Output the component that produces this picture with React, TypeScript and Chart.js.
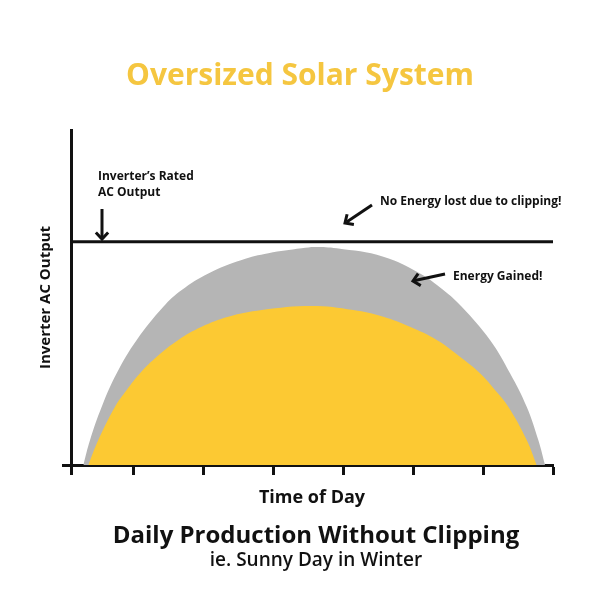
import React, { useEffect, useRef } from "react";
import { Chart, registerables } from "chart.js";

Chart.register(...registerables);

// ---- Axis ranges / ticks ----
const xMin = 0.114;
const xMax = 7;
const yMin = 0;
const yMax = 1.5;
const xTickValues = [0.114, 1, 2, 3, 4, 5, 6, 7];
const yTickValues = [0];

// ---- Series: inverter's rated AC output (flat line) ----
const ratedOutput = 1.0;

// ---- Series: oversized array production (grey, "Energy Gained") ----
const oversizedX = [0.29, 0.386, 0.553, 0.767, 1.053, 1.433, 1.696, 2.076, 2.553, 2.933, 3.41, 3.6, 3.91, 4.576, 5.1, 5.433, 5.696, 6.1, 6.386, 6.624, 6.79, 6.886];
const oversizedY = [0, 0.112, 0.261, 0.411, 0.56, 0.709, 0.784, 0.858, 0.918, 0.948, 0.97, 0.976, 0.97, 0.933, 0.858, 0.784, 0.709, 0.56, 0.411, 0.261, 0.112, 0];

// ---- Series: standard array production (yellow) ----
const standardX = [0.361, 0.504, 0.743, 0.91, 1.1, 1.339, 1.647, 1.981, 2.361, 2.839, 3.55, 4.147, 4.576, 4.957, 5.339, 5.671, 5.957, 6.171, 6.361, 6.624, 6.767];
const standardY = [0, 0.112, 0.261, 0.336, 0.411, 0.485, 0.56, 0.619, 0.664, 0.694, 0.712, 0.694, 0.664, 0.619, 0.56, 0.485, 0.411, 0.336, 0.261, 0.112, 0];

// ---- Text ----
const chartTitle = "Oversized Solar System";
const xAxisTitle = "Time of Day";
const yAxisTitle = "Inverter AC Output";
const captionMain = "Daily Production Without Clipping";
const captionSub = "ie. Sunny Day in Winter";
const ratedLabel = ["Inverter\u2019s Rated", "AC Output"];
const noLossLabel = "No Energy lost due to clipping!";
const gainedLabel = "Energy Gained!";

const FONT = '"Open Sans", "Noto Sans", sans-serif';
const GREY = "#b5b5b5";
const YELLOW = "#fcc933";
const TITLE_YELLOW = "#f5c640";
const INK = "#111111";

function drawArrow(ctx: CanvasRenderingContext2D, x1: number, y1: number, x2: number, y2: number) {
  const ang = Math.atan2(y2 - y1, x2 - x1);
  const head = 9;
  ctx.save();
  ctx.strokeStyle = INK;
  ctx.lineWidth = 3;
  ctx.lineCap = "butt";
  ctx.lineJoin = "miter";
  ctx.beginPath();
  ctx.moveTo(x1, y1);
  ctx.lineTo(x2 - Math.cos(ang) * 2, y2 - Math.sin(ang) * 2);
  ctx.stroke();
  ctx.beginPath();
  ctx.moveTo(x2 - head * Math.cos(ang - 0.75), y2 - head * Math.sin(ang - 0.75));
  ctx.lineTo(x2, y2);
  ctx.lineTo(x2 - head * Math.cos(ang + 0.75), y2 - head * Math.sin(ang + 0.75));
  ctx.stroke();
  ctx.restore();
}

const annotationPlugin = {
  id: "solarAnnotations",
  afterDraw(chart: any) {
    const ctx: CanvasRenderingContext2D = chart.ctx;
    ctx.save();
    ctx.textBaseline = "middle";

    ctx.fillStyle = TITLE_YELLOW;
    ctx.textAlign = "center";
    ctx.font = `bold 30px ${FONT}`;
    ctx.fillText(chartTitle, 300, 76);

    ctx.fillStyle = INK;
    ctx.textAlign = "left";
    ctx.font = `bold 12px ${FONT}`;
    ctx.fillText(ratedLabel[0], 98, 177);
    ctx.fillText(ratedLabel[1], 98, 193);
    ctx.fillText(noLossLabel, 380, 202);
    ctx.fillText(gainedLabel, 453, 277);

    drawArrow(ctx, 102, 209, 102, 239);
    drawArrow(ctx, 372, 205, 345, 223);
    drawArrow(ctx, 445, 274, 413, 281);

    ctx.textAlign = "center";
    ctx.font = `bold 24px ${FONT}`;
    ctx.fillText(captionMain, 316, 536);
    ctx.font = `600 19px ${FONT}`;
    ctx.fillText(captionSub, 316, 561);
    ctx.restore();
  },
};

export default function App() {
  const canvasRef = useRef<HTMLCanvasElement | null>(null);

  useEffect(() => {
    if (!canvasRef.current) return;
    const oversizedData = oversizedX.map((x, i) => ({ x, y: oversizedY[i] }));
    const standardData = standardX.map((x, i) => ({ x, y: standardY[i] }));
    const ratedData = [
      { x: xMin, y: ratedOutput },
      { x: xMax, y: ratedOutput },
    ];

    const chart = new Chart(canvasRef.current, {
      type: "line",
      data: {
        datasets: [
          {
            label: "Inverter's Rated AC Output",
            data: ratedData,
            borderColor: INK,
            borderWidth: 3,
            pointRadius: 0,
            fill: false,
            order: 0,
            clip: false as any,
          },
          {
            label: "Standard array",
            data: standardData,
            borderWidth: 0,
            borderColor: YELLOW,
            backgroundColor: YELLOW,
            pointRadius: 0,
            fill: "origin",
            tension: 0.4,
            order: 1,
          },
          {
            label: "Oversized array",
            data: oversizedData,
            borderWidth: 0,
            borderColor: GREY,
            backgroundColor: GREY,
            pointRadius: 0,
            fill: "origin",
            tension: 0.4,
            order: 2,
          },
        ],
      },
      options: {
        responsive: false,
        animation: false,
        events: [],
        layout: {
          padding: { top: 130, left: 33, right: 47, bottom: 87.2 },
        },
        plugins: {
          legend: { display: false },
          tooltip: { enabled: false },
          title: { display: false },
        },
        scales: {
          x: {
            type: "linear",
            min: xMin,
            max: xMax,
            afterBuildTicks: (scale: any) => {
              scale.ticks = xTickValues.map((v) => ({ value: v }));
            },
            ticks: { display: false },
            grid: {
              display: true,
              drawOnChartArea: false,
              drawTicks: true,
              tickLength: 10,
              tickWidth: 3,
              tickColor: INK,
            },
            border: { display: true, color: INK, width: 3 },
            title: {
              display: true,
              text: xAxisTitle,
              color: INK,
              font: { family: FONT, size: 18, weight: "bold", lineHeight: 1.2 },
              padding: { top: 12.2, bottom: 4 },
            },
          },
          y: {
            type: "linear",
            min: yMin,
            max: yMax,
            afterBuildTicks: (scale: any) => {
              scale.ticks = yTickValues.map((v) => ({ value: v }));
            },
            ticks: { display: false },
            grid: {
              display: true,
              drawOnChartArea: false,
              drawTicks: true,
              tickLength: 9,
              tickWidth: 3,
              tickColor: INK,
            },
            border: { display: true, color: INK, width: 3 },
            title: {
              display: true,
              text: yAxisTitle,
              color: INK,
              font: { family: FONT, size: 15, weight: "bold", lineHeight: 1.2 },
              padding: { top: 4, bottom: 7 },
            },
          },
        },
      },
      plugins: [annotationPlugin],
    });
    return () => chart.destroy();
  }, []);

  return (
    <div style={{ position: "absolute", left: 0, top: 0, width: 600, height: 600, background: "#ffffff" }}>
      <canvas ref={canvasRef} width={600} height={600} style={{ display: "block" }} />
    </div>
  );
}
